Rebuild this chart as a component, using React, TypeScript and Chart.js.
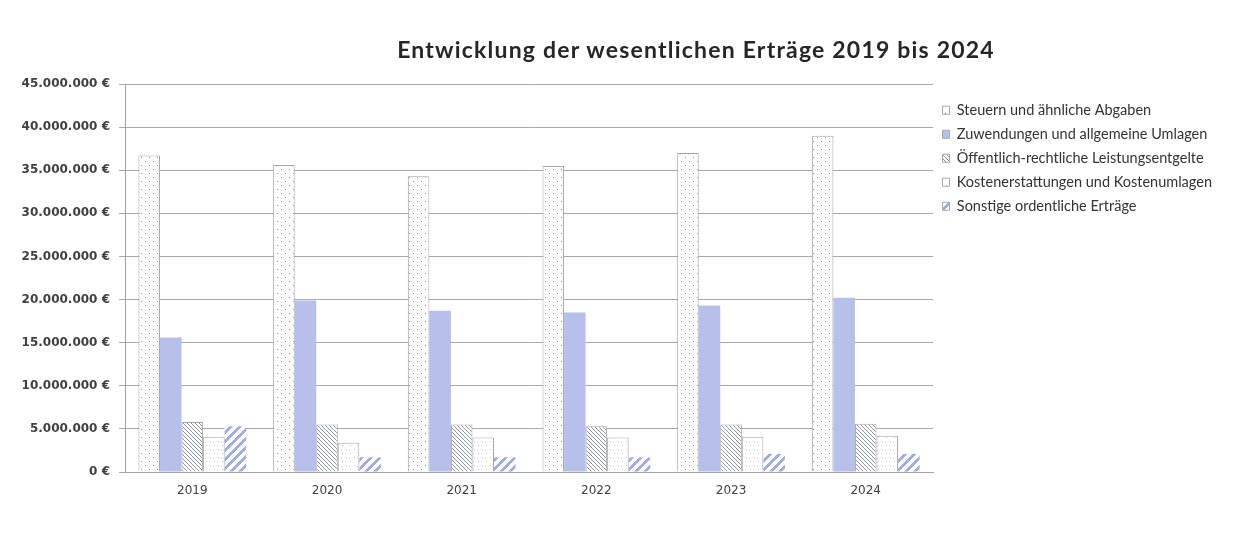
import React, { useEffect, useRef } from "react";
import { Chart, registerables } from "chart.js";

Chart.register(...registerables);

const categories = ["2019", "2020", "2021", "2022", "2023", "2024"];
const seriesNames = [
  "Steuern und ähnliche Abgaben",
  "Zuwendungen und allgemeine Umlagen",
  "Öffentlich-rechtliche Leistungsentgelte",
  "Kostenerstattungen und Kostenumlagen",
  "Sonstige ordentliche Erträge",
];
const steuern = [36700000, 35600000, 34300000, 35500000, 37000000, 39000000];
const zuwendungen = [15600000, 19900000, 18700000, 18500000, 19300000, 20200000];
const leistungsentgelte = [5800000, 5500000, 5500000, 5300000, 5500000, 5600000];
const kostenerstattungen = [4100000, 3400000, 4000000, 4000000, 4100000, 4200000];
const sonstige = [5300000, 1700000, 1700000, 1700000, 2100000, 2100000];
const yMax = 45000000;
const yStep = 5000000;
const title = "Entwicklung der wesentlichen Erträge 2019 bis 2024";

function makePattern(size: number, draw: (ctx: CanvasRenderingContext2D) => void) {
  const c = document.createElement("canvas");
  c.width = size;
  c.height = size;
  const ctx = c.getContext("2d")!;
  draw(ctx);
  return ctx.createPattern(c, "repeat")!;
}

function formatEuro(v: number) {
  return String(Math.round(v)).replace(/\B(?=(\d{3})+(?!\d))/g, ".") + " €";
}

export default function App() {
  const ref = useRef<HTMLCanvasElement>(null);

  useEffect(() => {
    const canvas = ref.current!;
    const dotted = makePattern(8, (ctx) => {
      ctx.fillStyle = "#ffffff";
      ctx.fillRect(0, 0, 8, 8);
      ctx.fillStyle = "#8a8a8a";
      ctx.fillRect(1, 1, 1, 1);
      ctx.fillRect(5, 5, 1, 1);
    });
    const hatchDown = makePattern(4, (ctx) => {
      ctx.fillStyle = "#ffffff";
      ctx.fillRect(0, 0, 4, 4);
      ctx.fillStyle = "#8e93a8";
      for (let i = 0; i < 4; i++) ctx.fillRect(i, i, 1, 1);
    });
    const sparse = makePattern(8, (ctx) => {
      ctx.fillStyle = "#ffffff";
      ctx.fillRect(0, 0, 8, 8);
      ctx.fillStyle = "#c4c4c4";
      ctx.fillRect(2, 1, 1, 1);
      ctx.fillRect(6, 5, 1, 1);
      ctx.fillRect(5, 2, 1, 1);
    });
    const stripesUp = makePattern(9, (ctx) => {
      ctx.fillStyle = "#ffffff";
      ctx.fillRect(0, 0, 9, 9);
      ctx.fillStyle = "#a3addf";
      for (let x = 0; x < 9; x++)
        for (let y = 0; y < 9; y++) if ((x + y) % 9 < 4) ctx.fillRect(x, y, 1, 1);
    });

    const chart = new Chart(canvas, {
      type: "bar",
      data: {
        labels: categories,
        datasets: [
          { label: seriesNames[0], data: steuern, backgroundColor: dotted, borderColor: "#a6a6a6", borderWidth: 1 },
          { label: seriesNames[1], data: zuwendungen, backgroundColor: "#b7c0ea", borderColor: "#b7c0ea", borderWidth: 0 },
          { label: seriesNames[2], data: leistungsentgelte, backgroundColor: hatchDown, borderColor: "#a6a6a6", borderWidth: 1 },
          { label: seriesNames[3], data: kostenerstattungen, backgroundColor: sparse, borderColor: "#a6a6a6", borderWidth: 1 },
          { label: seriesNames[4], data: sonstige, backgroundColor: stripesUp, borderColor: "#ffffff", borderWidth: 0 },
        ],
      },
      options: {
        animation: false,
        responsive: false,
        maintainAspectRatio: false,
        datasets: { bar: { categoryPercentage: 0.8, barPercentage: 1.0 } },
        layout: { padding: { top: 76, left: 0, right: 13, bottom: 22.6 } },
        scales: {
          x: {
            grid: { display: false, drawTicks: false },
            border: { display: true, color: "#a0a0a0" },
            ticks: { color: "#404040", padding: 12, font: { family: "DejaVu Sans", size: 12 } },
          },
          y: {
            min: 0,
            max: yMax,
            afterFit: (scale: any) => {
              scale.width = 117;
            },
            grid: { color: "#a8a8a8", tickLength: 6 },
            border: { display: true, color: "#a0a0a0" },
            ticks: {
              stepSize: yStep,
              padding: 9,
              color: "#404040",
              font: { family: "DejaVu Sans", size: 12, weight: "bold" },
              callback: (v: any) => formatEuro(Number(v)),
            },
          },
        },
        plugins: {
          title: { display: false },
          tooltip: { enabled: false },
          legend: {
            position: "right",
            align: "start",
            title: { display: true, text: " ", font: { size: 1 }, padding: { top: 0, bottom: 8.3 } },
            labels: {
              boxWidth: 7,
              boxHeight: 8,
              padding: 9.5,
              color: "#333333",
              font: { family: "Lato", size: 14.5 },
              generateLabels: (ch: any) => {
                const items = Chart.defaults.plugins.legend.labels.generateLabels(ch);
                return items.map((it: any) => ({ ...it, strokeStyle: "#a6a6a6", lineWidth: 1 }));
              },
            },
          },
        },
      } as any,
    });
    return () => chart.destroy();
  }, []);

  return (
    <div style={{ position: "relative", width: 1227, height: 525 }}>
      <div
        style={{
          position: "absolute",
          left: -2,
          top: -3,
          width: 1230,
          height: 531,
          border: "1px solid #c8c8c8",
          boxSizing: "border-box",
        }}
      />
      <canvas ref={ref} width={1227} height={525} style={{ position: "absolute", left: 0, top: 0 }} />
      <div
        style={{
          position: "absolute",
          left: 688,
          top: 41,
          transform: "translate(-50%, -50%)",
          whiteSpace: "nowrap",
          fontFamily: "Lato, sans-serif",
          fontWeight: 700,
          fontSize: 23,
          letterSpacing: "1.2px",
          color: "#262626",
        }}
      >
        {title}
      </div>
    </div>
  );
}
